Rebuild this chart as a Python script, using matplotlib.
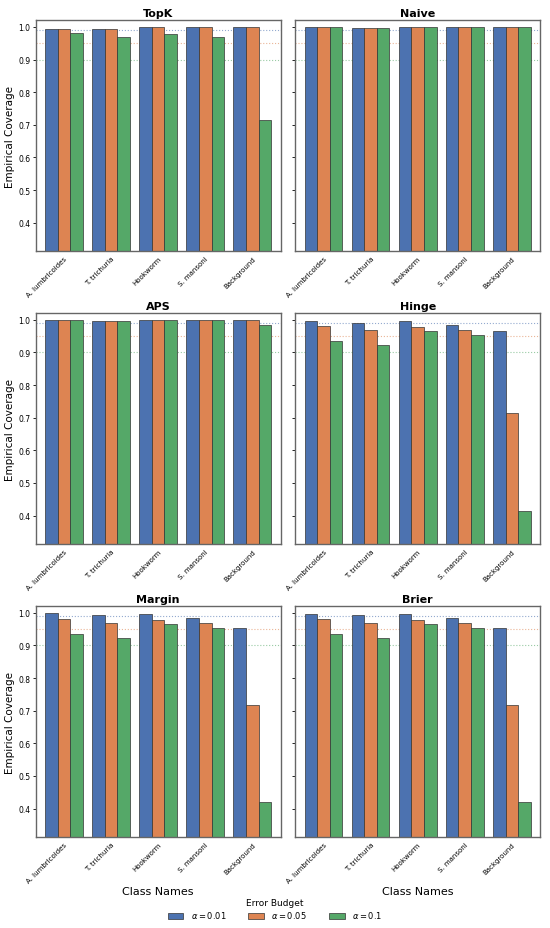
import numpy as np
import matplotlib.pyplot as plt
from matplotlib.patches import Patch

classes = ["A. lumbricoides", "T. trichuria", "Hookworm", "S. mansoni", "Background"]
alphas = [0.01, 0.05, 0.1]
alpha_labels = [r"$\alpha = 0.01$", r"$\alpha = 0.05$", r"$\alpha = 0.1$"]
methods = ["TopK", "Naive", "APS", "Hinge", "Margin", "Brier"]

# coverage per method: rows = alpha, cols = class
topk = [[0.995, 0.995, 1.000, 1.000, 1.000],
        [0.995, 0.995, 1.000, 1.000, 1.000],
        [0.980, 0.970, 0.977, 0.968, 0.715]]
naive = [[1.000, 0.998, 1.000, 1.000, 1.000],
         [1.000, 0.998, 1.000, 1.000, 1.000],
         [1.000, 0.998, 1.000, 1.000, 1.000]]
aps = [[1.000, 0.998, 1.000, 1.000, 1.000],
       [1.000, 0.998, 1.000, 1.000, 1.000],
       [1.000, 0.995, 1.000, 1.000, 0.983]]
hinge = [[0.995, 0.990, 0.995, 0.985, 0.965],
         [0.980, 0.970, 0.978, 0.968, 0.715],
         [0.935, 0.922, 0.965, 0.953, 0.413]]
margin = [[0.998, 0.993, 0.996, 0.985, 0.953],
          [0.980, 0.970, 0.978, 0.968, 0.716],
          [0.935, 0.922, 0.965, 0.953, 0.420]]
brier = [[0.996, 0.993, 0.996, 0.985, 0.953],
         [0.980, 0.970, 0.978, 0.968, 0.716],
         [0.935, 0.922, 0.965, 0.953, 0.420]]
coverage = [topk, naive, aps, hinge, margin, brier]

colors = ["#4C72B0", "#DD8452", "#55A868"]


def main():
    fig, axes = plt.subplots(3, 2, figsize=(5.5, 9.29), dpi=100, sharey=True)
    fig.subplots_adjust(left=0.065, right=0.982, top=0.977, bottom=0.098,
                        wspace=0.06, hspace=0.27)
    x = np.arange(len(classes))
    w = 0.8 / 3
    for i, ax in enumerate(axes.flat):
        vals = coverage[i]
        for j in range(3):
            ax.bar(x + (j - 1) * w, vals[j], width=w, color=colors[j],
                   edgecolor="#333333", linewidth=0.5, zorder=2)
            ax.axhline(1 - alphas[j], color=colors[j], linestyle=":",
                       linewidth=0.8, alpha=0.6, zorder=1)
        ax.set_title(methods[i], fontsize=8, fontweight="bold", pad=3)
        ax.set_xticks(x)
        ax.set_xticklabels(classes, rotation=45, ha="right", fontsize=5,
                           rotation_mode="anchor")
        ax.tick_params(axis="y", labelsize=5.5, length=2.5, width=0.6, pad=1.5)
        ax.tick_params(axis="x", length=0, pad=3)
        ax.set_xlim(-0.6, 4.6)
        for s in ax.spines.values():
            s.set_color("#666666")
            s.set_linewidth(1.0)
        if i % 2 == 0:
            ax.set_ylabel("Empirical Coverage", fontsize=7.5, labelpad=2)
        if i >= 4:
            ax.set_xlabel("Class Names", fontsize=8, labelpad=2)
    axes[0, 0].set_ylim(0.313, 1.02)
    axes[0, 0].set_yticks([0.4, 0.5, 0.6, 0.7, 0.8, 0.9, 1.0])

    handles = [Patch(facecolor=colors[j], edgecolor="#333333", linewidth=0.5)
               for j in range(3)]
    leg = fig.legend(handles, alpha_labels, title="Error Budget",
                     loc="lower center", ncol=3, fontsize=6, title_fontsize=6.5,
                     frameon=False, bbox_to_anchor=(0.5, 0.0),
                     columnspacing=2.6, handlelength=1.9, handletextpad=0.9)
    leg._legend_box.sep = 2
    fig.savefig("out.png", dpi=100)


if __name__ == "__main__":
    main()
